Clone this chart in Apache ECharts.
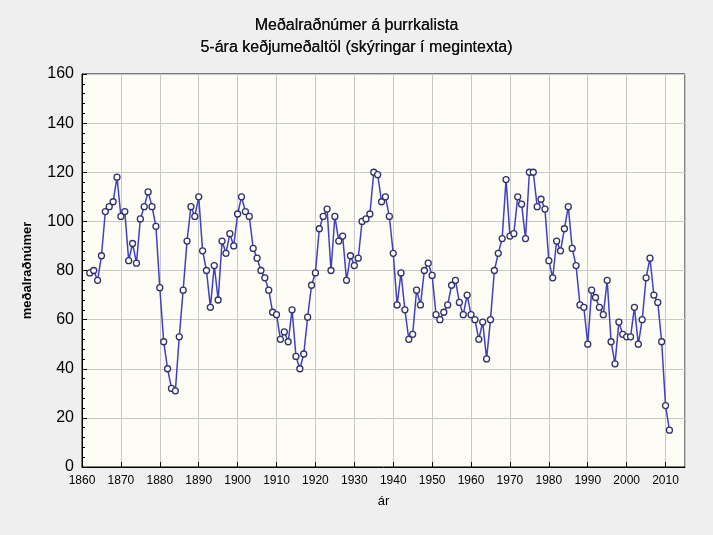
<!DOCTYPE html>
<html>
<head>
<meta charset="utf-8">
<script src="https://cdn.jsdelivr.net/npm/echarts@6/dist/echarts.min.js"></script>
<style>html,body{margin:0;padding:0;background:#efefef;}#chart{width:713px;height:535px;}</style>
</head>
<body>
<div id="chart"></div>
<script>
var firstYear = 1862;
var values = [
    79, 80, 76, 86, 104, 106, 108, 118, 102, 104,
    84, 91, 83, 101, 106, 112, 106, 98, 73, 51,
    40, 32, 31, 53, 72, 92, 106, 102, 110, 88,
    80, 65, 82, 68, 92, 87, 95, 90, 103, 110,
    104, 102, 89, 85, 80, 77, 72, 63, 62, 52,
    55, 51, 64, 45, 40, 46, 61, 74, 79, 97,
    102, 105, 80, 102, 92, 94, 76, 86, 82, 85,
    100, 101, 103, 120, 119, 108, 110, 102, 87, 66,
    79, 64, 52, 54, 72, 66, 80, 83, 78, 62,
    60, 63, 66, 74, 76, 67, 62, 70, 62, 60,
    52, 59, 44, 60, 80, 87, 93, 117, 94, 95,
    110, 107, 93, 120, 120, 106, 109, 105, 84, 77,
    92, 88, 97, 106, 89, 82, 66, 65, 50, 72,
    69, 65, 62, 76, 51, 42, 59, 54, 53, 53,
    65, 50, 60, 77, 85, 70, 67, 51, 25, 15
];

var myChart = echarts.init(document.getElementById('chart'));

var option = {
    backgroundColor: '#efefef',
    textStyle: { fontFamily: 'Liberation Sans, Arial, sans-serif' },
    title: {
        text: 'Meðalraðnúmer á þurrkalista\n5-ára keðjumeðaltöl (skýringar í megintexta)',
        left: 'center',
        top: 10,
        textStyle: { fontSize: 16, fontWeight: 500, color: '#111', lineHeight: 22, textShadowColor: '#111', textShadowBlur: 0.6 }
    },
    grid: { left: 82, right: 28, top: 74, bottom: 68, show: true, backgroundColor: '#fdfdf6', borderColor: '#000', borderWidth: 1 },
    xAxis: {
        type: 'value',
        min: 1860,
        max: 2015,
        interval: 10,
        name: 'ár',
        nameLocation: 'middle',
        nameGap: 28,
        nameTextStyle: { fontSize: 13, color: '#000' },
        axisLine: { lineStyle: { color: '#000' } },
        axisTick: { show: true, inside: true, lineStyle: { color: '#000' } },
        axisLabel: { color: '#000', fontSize: 12, showMaxLabel: false, formatter: function (v) { return String(v); } },
        splitLine: { lineStyle: { color: '#c8c8c8' } }
    },
    yAxis: {
        type: 'value',
        min: 0,
        max: 160,
        interval: 20,
        name: 'meðalraðnúmer',
        nameLocation: 'middle',
        nameGap: 48,
        nameTextStyle: { fontSize: 13, fontWeight: 'bold', color: '#000' },
        axisLine: { show: true, lineStyle: { color: '#000' } },
        axisTick: { show: true, inside: true, lineStyle: { color: '#000' } },
        minorTick: { show: true, splitNumber: 5, length: 3, lineStyle: { color: '#000' } },
        axisLabel: { color: '#000', fontSize: 16 },
        splitLine: { lineStyle: { color: '#c8c8c8' } }
    },
    series: [{
        type: 'line',
        data: values.map(function (v, i) { return [firstYear + i, v]; }),
        symbol: 'circle',
        symbolSize: 6,
        lineStyle: { color: '#4040c0', width: 1.5 },
        itemStyle: { color: '#ffffff', borderColor: '#30306a', borderWidth: 1.3 }
    }]
};

myChart.setOption(option);
</script>
</body>
</html>
